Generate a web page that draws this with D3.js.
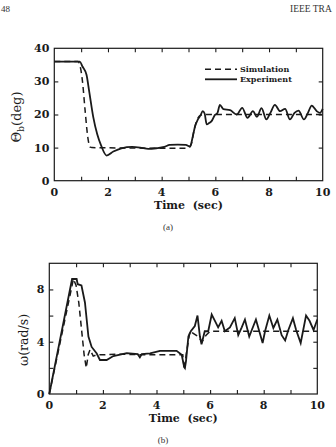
<!DOCTYPE html>
<html>
<head>
<meta charset="utf-8">
<script src="https://cdn.jsdelivr.net/npm/d3@7"></script>
<style>
  body { margin: 0; background: #fff; }
  svg { display: block; }
</style>
</head>
<body>
<div id="page"></div>
<script>
// ---- data ----
// (a) theta_b (deg) vs time
var simThetaT = [0, 0.88, 0.95, 1.05, 1.15, 1.25, 1.33, 1.4, 4.9, 5.0, 5.1, 5.2, 5.3, 5.45, 5.6, 10];
var simThetaV = [36, 36, 35, 30, 21, 13, 10.2, 10, 9.8, 10, 11, 15, 18, 19.8, 20, 20];
var expThetaT = [0, 0.95, 1.05, 1.2, 1.3, 1.45, 1.6, 1.75, 1.95, 2.2, 2.5, 2.9, 3.2, 3.5, 3.8, 4.1, 4.3, 4.6, 4.9, 5.06,
  5.15, 5.24, 5.35, 5.45, 5.53, 5.6, 5.68, 5.78, 5.86, 5.98, 6.08, 6.17, 6.3, 6.55, 6.8, 7.0, 7.2, 7.4, 7.55, 7.72,
  7.9, 8.05, 8.22, 8.41, 8.6, 8.78, 8.95, 9.1, 9.3, 9.45, 9.59, 9.78, 9.9, 10];
var expThetaV = [36, 36, 34.5, 32, 27, 19.3, 14, 10.5, 7.6, 8.8, 9.8, 10.2, 10, 9.6, 9.8, 10.2, 10.8, 10.9, 10.8, 10.3,
  13, 16.3, 18.5, 19.8, 21, 20.3, 17, 17.5, 18, 19.8, 20.5, 22.9, 21.6, 21.3, 20, 22, 19, 21, 19.3, 21.9,
  18.5, 20.5, 22.9, 21, 21.7, 18.5, 20.5, 21.2, 18.5, 20.5, 22.7, 21, 20.5, 21.7];

// (b) omega (rad/s) vs time
var simOmegaT = [0, 0.9, 1.0, 1.1, 1.2, 1.3, 1.38, 1.45, 1.52, 1.64, 1.77, 2.0, 2.5, 3.5, 4.5, 4.98, 5.04, 5.12, 5.25,
  5.4, 5.55, 5.7, 5.85, 6.0, 10];
var simOmegaV = [0, 8.8, 8.3, 7.0, 5.0, 3.0, 2.0, 3.0, 3.4, 2.9, 3.0, 3.0, 3.05, 3.0, 3.0, 3.0, 1.85, 3.2, 4.8,
  4.6, 4.4, 4.0, 4.5, 4.8, 4.8];
var expOmegaT = [0, 0.85, 1.02, 1.06, 1.2, 1.33, 1.46, 1.58, 1.77, 1.89, 2.14, 2.39, 2.89, 3.3, 3.38, 3.45, 3.76, 4.13,
  4.75, 4.94, 5.03, 5.06, 5.1, 5.19, 5.28, 5.43, 5.53, 5.62, 5.68, 5.8, 5.93, 6.06, 6.18, 6.3, 6.43, 6.55, 6.74,
  6.92, 7.05, 7.18, 7.3, 7.46, 7.71, 7.96, 8.05, 8.21, 8.36, 8.51, 8.67, 8.8, 8.92, 9.09, 9.21, 9.38, 9.58, 9.71,
  9.86, 10];
var expOmegaV = [0, 8.8, 8.8, 8.4, 8.3, 7.0, 4.4, 3.6, 3.1, 2.6, 2.6, 2.9, 3.13, 3.05, 2.8, 3.05, 3.1, 3.3,
  3.3, 3.0, 2.1, 2.0, 2.5, 4.4, 4.8, 5.2, 6.0, 4.4, 3.8, 4.8, 4.8, 6.08, 5.6, 5.1, 5.6, 4.8, 5.1,
  5.8, 4.5, 5.1, 5.7, 4.4, 5.7, 3.9, 4.8, 6.0, 5.05, 5.7, 4.5, 4.1, 4.9, 5.8, 4.9, 3.9, 6.0, 5.6,
  4.9, 5.7];

var xTickLabels = [0, 2, 4, 6, 8, 10];
var thetaTickLabels = [0, 10, 20, 30, 40];
var omegaTickLabels = [0, 4, 8];
var omegaTicks = [2, 4, 6, 8];

var svgWidth = 336, svgHeight = 447;
var ink = "#1a1a1a";
var serif = "'DejaVu Serif', 'Liberation Serif', serif";

var svg = d3.select("#page")
  .append("svg")
    .attr("width", svgWidth)
    .attr("height", svgHeight);

// page header bits
svg.append("text").attr("x", 1).attr("y", 12)
  .style("font-family", "'Liberation Serif', serif").style("font-size", "9px").attr("fill", "#333")
  .text("48");
svg.append("text").attr("x", 290).attr("y", 12)
  .style("font-family", "'Liberation Serif', serif").style("font-size", "9.5px").attr("fill", "#333")
  .text("IEEE TRA");

// draws one framed panel with inward ticks on all four sides
function panel(box, yDomain, yTicks, yLabels, curve) {
  var g = svg.append("g").attr("transform", "translate(" + box.left + "," + box.top + ")");
  var w = box.right - box.left, h = box.bottom - box.top;
  var x = d3.scaleLinear().domain([0, 10]).range([0, w]);
  var y = d3.scaleLinear().domain(yDomain).range([h, 0]);
  var secTicks = d3.range(1, 10);

  g.append("g").attr("transform", "translate(0," + h + ")")
    .call(d3.axisBottom(x).tickValues(secTicks).tickSize(-4).tickFormat(""));
  g.append("g")
    .call(d3.axisTop(x).tickValues(secTicks).tickSize(-4).tickFormat(""));
  g.append("g")
    .call(d3.axisLeft(y).tickValues(yTicks).tickSize(-4).tickFormat(""));
  g.append("g").attr("transform", "translate(" + w + ",0)")
    .call(d3.axisRight(y).tickValues(yTicks).tickSize(-4).tickFormat(""));
  g.selectAll(".domain").remove();
  g.selectAll(".tick line").attr("stroke", ink).attr("stroke-width", 1.1);

  g.append("rect").attr("width", w).attr("height", h)
    .attr("fill", "none").attr("stroke", ink).attr("stroke-width", 1.2);

  // tick labels
  g.selectAll(".xl").data(xTickLabels).enter().append("text")
    .attr("x", function(d) { return x(d); }).attr("y", h + 15.5)
    .attr("text-anchor", "middle")
    .style("font-family", serif).style("font-size", "11px").style("font-weight", "bold").attr("fill", ink)
    .text(function(d) { return d; });
  g.selectAll(".yl").data(yLabels).enter().append("text")
    .attr("x", -5).attr("y", function(d) { return y(d) + 4; })
    .attr("text-anchor", "end")
    .style("font-family", serif).style("font-size", "11px").style("font-weight", "bold").attr("fill", ink)
    .text(function(d) { return d; });

  g.append("text").attr("x", w / 2).attr("y", h + 28.5)
    .attr("text-anchor", "middle")
    .style("font-family", serif).style("font-size", "11px").style("font-weight", "bold")
    .style("white-space", "pre").attr("fill", ink)
    .text("Time\u00a0\u00a0(sec)");

  var line = d3.line().x(function(d) { return x(d[0]); }).y(function(d) { return y(d[1]); }).curve(curve);
  return {g: g, x: x, y: y, line: line};
}

// ---- (a) ----
var pa = panel({left: 54.3, right: 322.7, top: 48.3, bottom: 180.7}, [0, 40], [10, 20, 30], thetaTickLabels, d3.curveMonotoneX);
pa.g.append("path").datum(d3.zip(simThetaT, simThetaV))
  .attr("fill", "none").attr("stroke", ink).attr("stroke-width", 1.5)
  .attr("stroke-dasharray", "6,4").attr("d", pa.line);
pa.g.append("path").datum(d3.zip(expThetaT, expThetaV))
  .attr("fill", "none").attr("stroke", ink).attr("stroke-width", 1.8).attr("d", pa.line);

// legend
var leg = pa.g.append("g").attr("transform", "translate(" + (205 - 54.3) + "," + (69.3 - 48.3) + ")");
leg.append("line").attr("x1", 0).attr("x2", 32).attr("y1", 0).attr("y2", 0)
  .attr("stroke", ink).attr("stroke-width", 1.5).attr("stroke-dasharray", "6,4");
leg.append("line").attr("x1", 0).attr("x2", 32).attr("y1", 10).attr("y2", 10)
  .attr("stroke", ink).attr("stroke-width", 1.8);
leg.selectAll("text").data(["Simulation", "Experiment"]).enter().append("text")
  .attr("x", 35).attr("y", function(d, i) { return i * 10 + 3; })
  .style("font-family", serif).style("font-size", "8px").style("font-weight", "bold").attr("fill", ink)
  .text(function(d) { return d; });

// y label (a): theta_b (deg)
var ya = svg.append("text")
  .attr("transform", "translate(21,117) rotate(-90)")
  .attr("text-anchor", "middle")
  .style("font-family", serif).style("font-size", "13px").attr("fill", ink);
ya.append("tspan").text("\u0398");
ya.append("tspan").attr("dy", 3).style("font-size", "9px").text("b");
ya.append("tspan").attr("dy", -3).text("(deg)");

svg.append("text").attr("x", 168).attr("y", 230).attr("text-anchor", "middle")
  .style("font-family", "'Liberation Serif', serif").style("font-size", "9px").attr("fill", "#333")
  .text("(a)");

// ---- (b) ----
var pb = panel({left: 49.3, right: 317.3, top: 263.3, bottom: 394}, [0, 10], omegaTicks, omegaTickLabels, d3.curveLinear);
pb.g.append("path").datum(d3.zip(simOmegaT, simOmegaV))
  .attr("fill", "none").attr("stroke", ink).attr("stroke-width", 1.5)
  .attr("stroke-dasharray", "6,4").attr("d", pb.line);
pb.g.append("path").datum(d3.zip(expOmegaT, expOmegaV))
  .attr("fill", "none").attr("stroke", ink).attr("stroke-width", 1.8).attr("d", pb.line);

svg.append("text")
  .attr("transform", "translate(28,340) rotate(-90)")
  .attr("text-anchor", "middle")
  .style("font-family", serif).style("font-size", "12.5px").attr("fill", ink)
  .text("\u03c9(rad/s)");

svg.append("text").attr("x", 163).attr("y", 443).attr("text-anchor", "middle")
  .style("font-family", "'Liberation Serif', serif").style("font-size", "9px").attr("fill", "#333")
  .text("(b)");
</script>
</body>
</html>
